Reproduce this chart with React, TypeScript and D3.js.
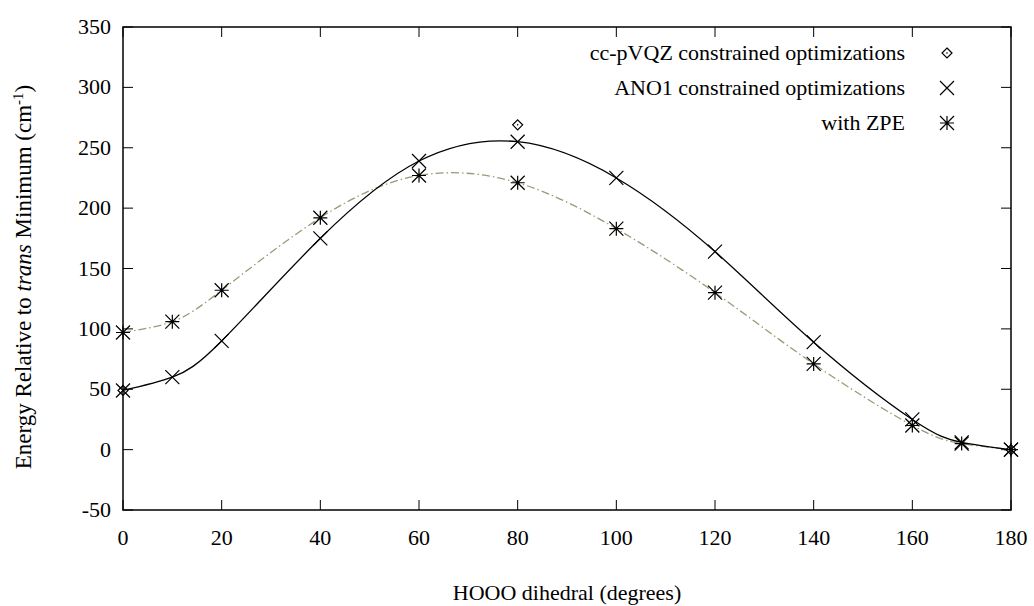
import * as d3 from "d3";

// HOOO dihedral angle (degrees)
const angles = [0, 10, 20, 40, 60, 80, 100, 120, 140, 160, 170, 180];
// ANO1 constrained optimizations (cm-1)
const ano1 = [49, 60, 90, 175, 239, 255, 225, 164, 89, 25, 6, 0];
// with ZPE (cm-1)
const zpe = [97, 106, 132, 192, 227, 221, 183, 130, 71, 20, 5, 0];
// cc-pVQZ constrained optimizations
const vqzAngles = [0, 80, 180];
const vqz = [49, 269, 0];

const xTicks = [0, 20, 40, 60, 80, 100, 120, 140, 160, 180];
const yTicks = [-50, 0, 50, 100, 150, 200, 250, 300, 350];

const W = 1034;
const H = 606;
const L = 123;
const R = 1011;
const T = 27;
const B = 510;
const FONT = "Liberation Serif";
const FS = 22;
const DASH_COLOR = "#9a9a76";

function Cross({ x, y, s = 7 }: { x: number; y: number; s?: number }) {
  return (
    <path
      d={`M${x - s},${y - s}L${x + s},${y + s}M${x - s},${y + s}L${x + s},${y - s}`}
      stroke="#000"
      strokeWidth={1.2}
      fill="none"
    />
  );
}

function Star({ x, y, s = 7 }: { x: number; y: number; s?: number }) {
  return (
    <path
      d={`M${x - s},${y - s}L${x + s},${y + s}M${x - s},${y + s}L${x + s},${y - s}M${x - s},${y}L${x + s},${y}M${x},${y - s}L${x},${y + s}`}
      stroke="#000"
      strokeWidth={1.2}
      fill="none"
    />
  );
}

function Diamond({ x, y, s = 5 }: { x: number; y: number; s?: number }) {
  return (
    <g>
      <path
        d={`M${x},${y - s}L${x + s},${y}L${x},${y + s}L${x - s},${y}Z`}
        stroke="#000"
        strokeWidth={1.2}
        fill="none"
      />
      <circle cx={x} cy={y} r={0.8} fill="#000" />
    </g>
  );
}

export default function App() {
  const x = d3.scaleLinear().domain([0, 180]).range([L, R]);
  const y = d3.scaleLinear().domain([-50, 350]).range([B, T]);

  const line = d3
    .line<number>()
    .x((_, i) => x(angles[i]))
    .curve(d3.curveNatural);

  const ano1Path = line.y((d) => y(d))(ano1) || "";
  const zpePath = line.y((d) => y(d))(zpe) || "";

  const tick = 10;
  const txt = { fontFamily: FONT, fontSize: FS };

  return (
    <svg
      width={W}
      height={H}
      style={{ position: "absolute", left: 0, top: 0, background: "#fff" }}
    >
      <rect x={0} y={0} width={W} height={H} fill="#fff" />

      {/* ticks, mirrored on all sides */}
      {xTicks.map((t) => (
        <g key={"x" + t}>
          <line x1={x(t)} x2={x(t)} y1={B} y2={B - tick} stroke="#000" strokeWidth={1} />
          <line x1={x(t)} x2={x(t)} y1={T} y2={T + tick} stroke="#000" strokeWidth={1} />
          <text x={x(t)} y={545} style={txt} textAnchor="middle">
            {t}
          </text>
        </g>
      ))}
      {yTicks.map((t) => (
        <g key={"y" + t}>
          <line x1={L} x2={L + tick} y1={y(t)} y2={y(t)} stroke="#000" strokeWidth={1} />
          <line x1={R} x2={R - tick} y1={y(t)} y2={y(t)} stroke="#000" strokeWidth={1} />
          <text x={111} y={y(t) + 7} style={txt} textAnchor="end">
            {t}
          </text>
        </g>
      ))}

      <rect x={L} y={T} width={R - L} height={B - T} fill="none" stroke="#000" strokeWidth={1.5} />

      {/* fitted curves */}
      <path d={zpePath} fill="none" stroke={DASH_COLOR} strokeWidth={1.3} strokeDasharray="8,3,1.5,3" />
      <path d={ano1Path} fill="none" stroke="#000" strokeWidth={1.3} />

      {/* points */}
      {vqzAngles.map((a, i) => (
        <Diamond key={"d" + i} x={x(a)} y={y(vqz[i])} />
      ))}
      {angles.map((a, i) => (
        <Cross key={"c" + i} x={x(a)} y={y(ano1[i])} />
      ))}
      {angles.map((a, i) => (
        <Star key={"s" + i} x={x(a)} y={y(zpe[i])} />
      ))}

      {/* legend */}
      <text x={905} y={60} style={txt} textAnchor="end">
        cc-pVQZ constrained optimizations
      </text>
      <Diamond x={947} y={53} />
      <text x={905} y={95} style={txt} textAnchor="end">
        ANO1 constrained optimizations
      </text>
      <Cross x={947} y={88} />
      <text x={905} y={130} style={txt} textAnchor="end">
        with ZPE
      </text>
      <Star x={947} y={123} />

      {/* axis titles */}
      <text x={(L + R) / 2} y={600} style={txt} textAnchor="middle">
        HOOO dihedral (degrees)
      </text>
      <text
        transform={`translate(31,277) rotate(-90)`}
        style={{ fontFamily: FONT, fontSize: 23 }}
        textAnchor="middle"
      >
        Energy Relative to <tspan fontStyle="italic">trans</tspan> Minimum (cm
        <tspan fontSize={15} dy={-8}>
          -1
        </tspan>
        <tspan dy={8}>)</tspan>
      </text>
    </svg>
  );
}
